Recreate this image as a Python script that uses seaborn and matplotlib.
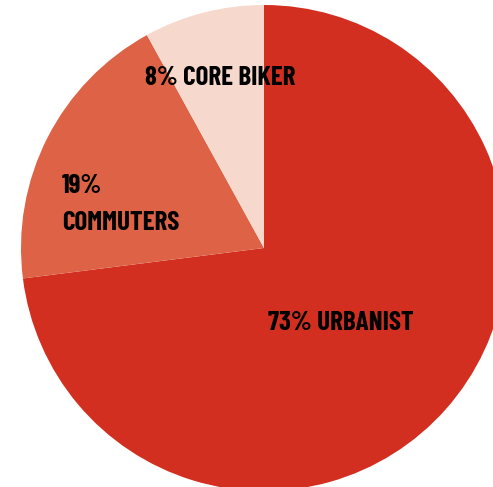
import matplotlib
matplotlib.use("Agg")
import matplotlib.pyplot as plt
import seaborn as sns

segments = ["URBANIST", "COMMUTERS", "CORE BIKER"]
shares = [73, 19, 8]
colors = ["#D22F20", "#DD6246", "#F6D8CD"]

sns.set_theme(style="white")
plt.rcParams["font.family"] = ["Barlow Condensed", "DejaVu Sans"]

fig = plt.figure(figsize=(4.93, 4.87), dpi=100)
ax = fig.add_axes([0, 0, 1, 1])

ax.pie(shares, colors=colors, startangle=90, counterclock=False,
       radius=1.0, center=(0, 0), wedgeprops=dict(linewidth=0))

# pixel -> data helpers (radius is 243 px, centre at 264, 248)
R = 243.0
def px(x):
    return (x - 264) / R
def py(y):
    return (248 - y) / R

ax.set_xlim(px(0), px(493))
ax.set_ylim(py(487), py(0))
ax.set_aspect("auto")
ax.axis("off")

style = dict(fontsize=19.5, fontweight="bold", color="black",
             ha="left", va="baseline")
ax.text(px(145), py(85), f"{shares[2]}% {segments[2]}", **style)
ax.text(px(62), py(193), f"{shares[1]}%", **style)
ax.text(px(62), py(230), segments[1], **style)
ax.text(px(268), py(330), f"{shares[0]}% {segments[0]}", **style)

fig.savefig("out.png", dpi=100)
